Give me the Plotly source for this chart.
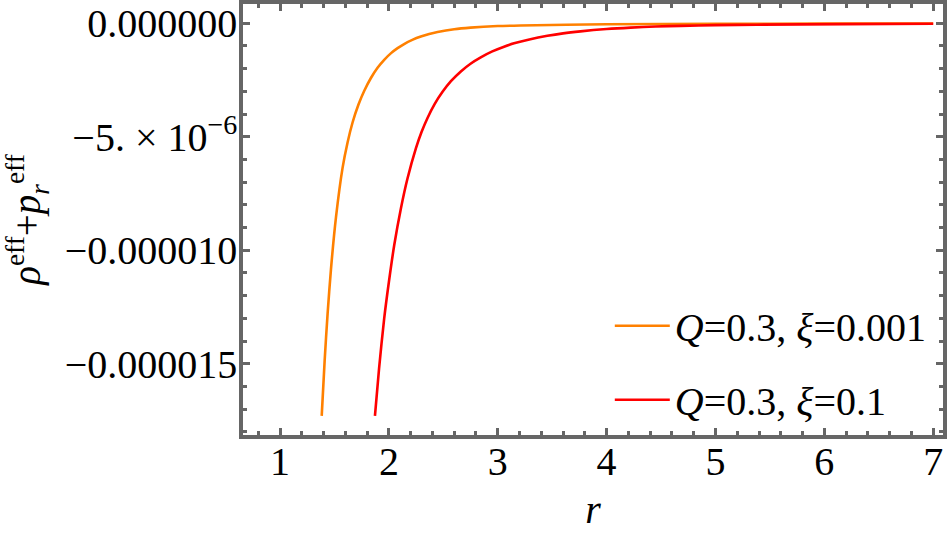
import plotly.graph_objects as go

# Data (values in units of 1e-6, scaled below)
r_orange = [1.383, 1.41, 1.437, 1.468, 1.514, 1.575, 1.62, 1.667, 1.72, 1.774, 1.835, 1.896,
            1.957, 2.02, 2.08, 2.14, 2.22, 2.294, 2.37, 2.447, 2.6, 2.75, 3.0, 3.21, 4.0, 5.0,
            6.0, 7.0]
v_orange = [-17.3, -14.86, -12.8, -10.84, -8.55, -6.36, -5.26, -4.36, -3.59, -2.97, -2.41, -1.96,
            -1.61, -1.315, -1.093, -0.913, -0.721, -0.584, -0.472, -0.384, -0.262, -0.191,
            -0.122, -0.096, -0.045, -0.022, -0.013, -0.008]

r_red = [1.872, 1.91, 1.957, 2.0, 2.049, 2.11, 2.171, 2.248, 2.3, 2.355, 2.42, 2.493, 2.57,
         2.661, 2.75, 2.844, 2.95, 3.058, 3.15, 3.3, 3.456, 3.6, 3.76, 4.0, 4.22, 4.45, 4.68,
         5.0, 5.38, 6.2, 7.0]
v_red = [-17.3, -15.2, -13.0, -11.4, -9.78, -8.17, -6.84, -5.51, -4.79, -4.17, -3.56, -3.02,
         -2.55, -2.12, -1.78, -1.50, -1.24, -1.03, -0.884, -0.70, -0.552, -0.444, -0.355,
         -0.254, -0.191, -0.143, -0.112, -0.082, -0.062, -0.035, -0.022]

scale = 1e-6
labels = ["<i>Q</i>=0.3, <i>ξ</i>=0.001", "<i>Q</i>=0.3, <i>ξ</i>=0.1"]
colors = ["#FF8000", "#FF0000"]

x_ticks = [1, 2, 3, 4, 5, 6, 7]
y_ticks = [0, -5e-6, -1e-5, -1.5e-5]
y_ticktext = ["0.000000", "−5. × 10<sup>−6</sup>", "−0.000010", "−0.000015"]

fig = go.Figure()
for i, (rr, vv) in enumerate([(r_orange, v_orange), (r_red, v_red)]):
    fig.add_trace(go.Scatter(
        x=rr, y=[v * scale for v in vv], mode="lines",
        line=dict(color=colors[i], width=2.6, shape="spline", smoothing=0.7),
        name=labels[i], legendgroup=f"g{i}"))

frame = "#666666"
font_fam = "Liberation Serif, Times New Roman, serif"

fig.update_layout(
    width=948, height=536,
    margin=dict(l=243, r=5, t=4, b=101),
    paper_bgcolor="white", plot_bgcolor="white",
    font=dict(family=font_fam, color="black"),
    showlegend=True,
    legend=dict(x=0.524, y=0.329, xanchor="left", yanchor="top",
                font=dict(size=40, family=font_fam), bgcolor="rgba(0,0,0,0)",
                traceorder="grouped", tracegroupgap=19, itemwidth=55),
)

fig.update_xaxes(
    range=[0.66, 7.09], tickvals=x_ticks, ticktext=[str(t) for t in x_ticks],
    showgrid=False, zeroline=False, showline=True, linecolor=frame, linewidth=3.5,
    mirror="ticks", ticks="inside", ticklen=7, tickwidth=3, tickcolor=frame,
    minor=dict(ticks="inside", dtick=0.2, tick0=0, ticklen=4, tickwidth=3, tickcolor=frame),
    tickfont=dict(size=40, family=font_fam), ticklabelstandoff=-12, automargin=False,
    title=dict(text="<i>r</i>", font=dict(size=40, family=font_fam), standoff=13),
)
fig.update_yaxes(
    range=[-18.14e-6, 0.85e-6], tickvals=y_ticks, ticktext=y_ticktext,
    showgrid=False, zeroline=False, showline=True, linecolor=frame, linewidth=3.5,
    mirror="ticks", ticks="inside", ticklen=7, tickwidth=3, tickcolor=frame,
    minor=dict(ticks="inside", dtick=1e-6, tick0=0, ticklen=4, tickwidth=3, tickcolor=frame),
    tickfont=dict(size=40, family=font_fam), ticklabelstandoff=-6, automargin=False,
    title=dict(text="<i>ρ</i><sup>eff</sup>+<i>p</i><sub><i>r</i></sub><sup>eff</sup>",
               font=dict(size=39, family=font_fam), standoff=20),
)

fig.write_html("out.html", config={"displayModeBar": False},
               post_script="document.body.style.margin='0';")
